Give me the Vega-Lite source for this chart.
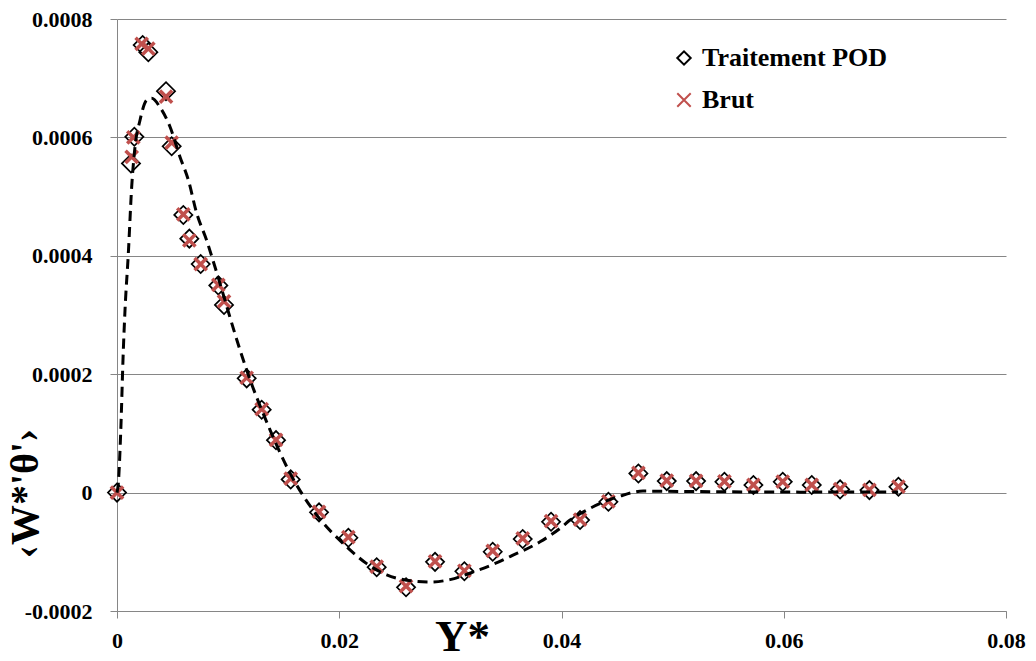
{
  "$schema": "https://vega.github.io/schema/vega-lite/v6.json",
  "width": 889,
  "height": 592,
  "autosize": {"type": "none"},
  "padding": {"left": 117, "top": 19, "right": 30, "bottom": 50},
  "background": "white",
  "config": {"view": {"stroke": null}, "font": "Liberation Serif", "axis": {"labelFont": "Liberation Serif", "titleFont": "Liberation Serif"}},
  "datasets": {
    "pod": [
      {"y": 0, "w": 0, "serie": "Traitement POD"},
      {"y": 0.00126, "w": 0.000556, "serie": "Traitement POD"},
      {"y": 0.00156, "w": 0.000601, "serie": "Traitement POD"},
      {"y": 0.00231, "w": 0.000756, "serie": "Traitement POD"},
      {"y": 0.00282, "w": 0.000744, "serie": "Traitement POD"},
      {"y": 0.00441, "w": 0.000678, "serie": "Traitement POD"},
      {"y": 0.00492, "w": 0.000585, "serie": "Traitement POD"},
      {"y": 0.00597, "w": 0.000469, "serie": "Traitement POD"},
      {"y": 0.00651, "w": 0.000429, "serie": "Traitement POD"},
      {"y": 0.00753, "w": 0.000386, "serie": "Traitement POD"},
      {"y": 0.00912, "w": 0.00035, "serie": "Traitement POD"},
      {"y": 0.00963, "w": 0.000317, "serie": "Traitement POD"},
      {"y": 0.01167, "w": 0.000193, "serie": "Traitement POD"},
      {"y": 0.01302, "w": 0.00014, "serie": "Traitement POD"},
      {"y": 0.01431, "w": 0.0000886, "serie": "Traitement POD"},
      {"y": 0.01563, "w": 0.0000223, "serie": "Traitement POD"},
      {"y": 0.01818, "w": -0.0000334, "serie": "Traitement POD"},
      {"y": 0.02082, "w": -0.0000763, "serie": "Traitement POD"},
      {"y": 0.02337, "w": -0.000126, "serie": "Traitement POD"},
      {"y": 0.02601, "w": -0.00016, "serie": "Traitement POD"},
      {"y": 0.02862, "w": -0.000117, "serie": "Traitement POD"},
      {"y": 0.03126, "w": -0.000133, "serie": "Traitement POD"},
      {"y": 0.03381, "w": -0.0000999, "serie": "Traitement POD"},
      {"y": 0.03651, "w": -0.0000785, "serie": "Traitement POD"},
      {"y": 0.03906, "w": -0.0000493, "serie": "Traitement POD"},
      {"y": 0.04167, "w": -0.0000464, "serie": "Traitement POD"},
      {"y": 0.04422, "w": -0.0000155, "serie": "Traitement POD"},
      {"y": 0.04692, "w": 0.0000324, "serie": "Traitement POD"},
      {"y": 0.04947, "w": 0.0000194, "serie": "Traitement POD"},
      {"y": 0.05211, "w": 0.0000194, "serie": "Traitement POD"},
      {"y": 0.05466, "w": 0.0000182, "serie": "Traitement POD"},
      {"y": 0.05727, "w": 0.0000127, "serie": "Traitement POD"},
      {"y": 0.05991, "w": 0.0000182, "serie": "Traitement POD"},
      {"y": 0.06252, "w": 0.0000127, "serie": "Traitement POD"},
      {"y": 0.06507, "w": 0.0000054, "serie": "Traitement POD"},
      {"y": 0.06771, "w": 0.0000042, "serie": "Traitement POD"},
      {"y": 0.07032, "w": 0.0000098, "serie": "Traitement POD"}
    ],
    "brut": [
      {"y": 0, "w": 0, "serie": "Brut"},
      {"y": 0.00132, "w": 0.000567, "serie": "Brut"},
      {"y": 0.00147, "w": 0.0006, "serie": "Brut"},
      {"y": 0.00222, "w": 0.000758, "serie": "Brut"},
      {"y": 0.00282, "w": 0.00075, "serie": "Brut"},
      {"y": 0.00441, "w": 0.000669, "serie": "Brut"},
      {"y": 0.00492, "w": 0.000591, "serie": "Brut"},
      {"y": 0.00597, "w": 0.00047, "serie": "Brut"},
      {"y": 0.00651, "w": 0.000426, "serie": "Brut"},
      {"y": 0.00753, "w": 0.000386, "serie": "Brut"},
      {"y": 0.00912, "w": 0.000351, "serie": "Brut"},
      {"y": 0.00963, "w": 0.000323, "serie": "Brut"},
      {"y": 0.01167, "w": 0.000194, "serie": "Brut"},
      {"y": 0.01302, "w": 0.000141, "serie": "Brut"},
      {"y": 0.01431, "w": 0.0000892, "serie": "Brut"},
      {"y": 0.01563, "w": 0.0000235, "serie": "Brut"},
      {"y": 0.01818, "w": -0.0000325, "serie": "Brut"},
      {"y": 0.02082, "w": -0.0000752, "serie": "Brut"},
      {"y": 0.02337, "w": -0.000125, "serie": "Brut"},
      {"y": 0.02601, "w": -0.000158, "serie": "Brut"},
      {"y": 0.02862, "w": -0.000116, "serie": "Brut"},
      {"y": 0.03126, "w": -0.000132, "serie": "Brut"},
      {"y": 0.03381, "w": -0.0000985, "serie": "Brut"},
      {"y": 0.03651, "w": -0.0000775, "serie": "Brut"},
      {"y": 0.03906, "w": -0.0000482, "serie": "Brut"},
      {"y": 0.04167, "w": -0.0000455, "serie": "Brut"},
      {"y": 0.04422, "w": -0.0000148, "serie": "Brut"},
      {"y": 0.04692, "w": 0.0000332, "serie": "Brut"},
      {"y": 0.04947, "w": 0.0000201, "serie": "Brut"},
      {"y": 0.05211, "w": 0.0000199, "serie": "Brut"},
      {"y": 0.05466, "w": 0.0000188, "serie": "Brut"},
      {"y": 0.05727, "w": 0.0000131, "serie": "Brut"},
      {"y": 0.05991, "w": 0.0000186, "serie": "Brut"},
      {"y": 0.06252, "w": 0.0000131, "serie": "Brut"},
      {"y": 0.06507, "w": 0.0000058, "serie": "Brut"},
      {"y": 0.06771, "w": 0.0000046, "serie": "Brut"},
      {"y": 0.07032, "w": 0.0000102, "serie": "Brut"}
    ],
    "curve": [
      {"y": 0, "w": 0},
      {"y": 0.00012, "w": 0.000016},
      {"y": 0.00033, "w": 0.0001},
      {"y": 0.00057, "w": 0.000241},
      {"y": 0.00072, "w": 0.000308},
      {"y": 0.00102, "w": 0.000404},
      {"y": 0.00132, "w": 0.000516},
      {"y": 0.00162, "w": 0.000584},
      {"y": 0.00207, "w": 0.000629},
      {"y": 0.00267, "w": 0.000663},
      {"y": 0.00312, "w": 0.000666},
      {"y": 0.00387, "w": 0.000651},
      {"y": 0.00477, "w": 0.000618},
      {"y": 0.00567, "w": 0.000567},
      {"y": 0.00642, "w": 0.000528},
      {"y": 0.00717, "w": 0.000472},
      {"y": 0.00807, "w": 0.000426},
      {"y": 0.00882, "w": 0.000381},
      {"y": 0.01107, "w": 0.000241},
      {"y": 0.01167, "w": 0.000207},
      {"y": 0.01377, "w": 0.000106},
      {"y": 0.01557, "w": 0.0000329},
      {"y": 0.01764, "w": -0.0000295},
      {"y": 0.02067, "w": -0.0000915},
      {"y": 0.02247, "w": -0.00012},
      {"y": 0.02427, "w": -0.000139},
      {"y": 0.02607, "w": -0.000148},
      {"y": 0.02817, "w": -0.000151},
      {"y": 0.02997, "w": -0.000147},
      {"y": 0.03207, "w": -0.000134},
      {"y": 0.03387, "w": -0.000121},
      {"y": 0.03537, "w": -0.000108},
      {"y": 0.03807, "w": -0.0000831},
      {"y": 0.03987, "w": -0.0000604},
      {"y": 0.04077, "w": -0.0000464},
      {"y": 0.04227, "w": -0.0000295},
      {"y": 0.04527, "w": -0.0000059},
      {"y": 0.04734, "w": 0.0000025},
      {"y": 0.05247, "w": 0.0000017},
      {"y": 0.06147, "w": 0.0000008},
      {"y": 0.07029, "w": 0.000001}
    ]
  },
  "layer": [
    {
      "mark": {"type": "rule", "color": "#404040", "strokeWidth": 1},
      "encoding": {"x": {"datum": 0.08, "type": "quantitative"}}
    },
    {
      "data": {"name": "pod"},
      "mark": {"type": "point", "filled": false, "size": 330, "strokeWidth": 1.7, "opacity": 1},
      "encoding": {
        "x": {
          "field": "y", "type": "quantitative",
          "scale": {"domain": [0, 0.08], "nice": false, "zero": false},
          "axis": {
            "values": [0, 0.02, 0.04, 0.06, 0.08],
            "grid": false,
            "domainColor": "#868686",
            "tickColor": "#868686",
            "tickSize": 7,
            "labelFont": "Liberation Serif",
            "labelFontWeight": "bold",
            "labelFontSize": 22,
            "labelColor": "black",
            "labelPadding": 12,
            "labelOverlap": false,
            "labelFlush": false,
            "labelExpr": "datum.value == 0 ? '0' : format(datum.value, '.2f')",
            "title": "Y*",
            "titleFont": "Liberation Serif",
            "titleFontSize": 45,
            "titleFontWeight": "bold",
            "titleColor": "black",
            "titleX": 345,
            "titleY": 39,
            "titleAlign": "center",
            "titleBaseline": "alphabetic"
          }
        },
        "y": {
          "field": "w", "type": "quantitative",
          "scale": {"domain": [-0.0002, 0.0008], "nice": false, "zero": false},
          "axis": {
            "values": [-0.0002, 0, 0.0002, 0.0004, 0.0006, 0.0008],
            "grid": true,
            "gridColor": "#868686",
            "gridWidth": 1,
            "domainColor": "#868686",
            "tickColor": "#868686",
            "tickSize": 7,
            "labelFont": "Liberation Serif",
            "labelFontWeight": "bold",
            "labelFontSize": 22,
            "labelColor": "black",
            "labelPadding": 18,
            "labelOverlap": false,
            "labelFlush": false,
            "labelExpr": "datum.value == 0 ? '0' : (datum.value < 0 ? '-' + format(-datum.value, '.4f') : format(datum.value, '.4f'))",
            "title": "‹W*'θ'›",
            "titleFont": "Liberation Serif",
            "titleFontSize": 40,
            "titleFontWeight": "bold",
            "titleColor": "black",
            "titleAngle": 270,
            "titleX": -92,
            "titleY": 474,
            "titleAlign": "center",
            "titleBaseline": "middle"
          }
        },
        "shape": {
          "field": "serie", "type": "nominal",
          "scale": {"domain": ["Traitement POD", "Brut"], "range": ["diamond", "M-1,-1L1,1M1,-1L-1,1"]},
          "legend": {
            "orient": "none",
            "legendX": 554,
            "legendY": 26,
            "title": null,
            "padding": 0,
            "symbolSize": 180,
            "symbolStrokeWidth": 2,
            "labelFont": "Liberation Serif",
            "labelFontSize": 26,
            "labelFontWeight": "bold",
            "labelColor": "black",
            "labelOffset": 5,
            "labelLimit": 400,
            "rowPadding": 16
          }
        },
        "stroke": {
          "field": "serie", "type": "nominal",
          "scale": {"domain": ["Traitement POD", "Brut"], "range": ["#000000", "#C0504D"]},
          "legend": {
            "orient": "none",
            "legendX": 554,
            "legendY": 26,
            "title": null,
            "padding": 0,
            "symbolSize": 180,
            "symbolStrokeWidth": 2,
            "labelFont": "Liberation Serif",
            "labelFontSize": 26,
            "labelFontWeight": "bold",
            "labelColor": "black",
            "labelOffset": 5,
            "labelLimit": 400,
            "rowPadding": 16
          }
        }
      }
    },
    {
      "data": {"name": "brut"},
      "mark": {"type": "point", "filled": false, "size": 150, "strokeWidth": 3.5, "opacity": 1},
      "encoding": {
        "x": {"field": "y", "type": "quantitative"},
        "y": {"field": "w", "type": "quantitative"},
        "shape": {"field": "serie", "type": "nominal"},
        "stroke": {"field": "serie", "type": "nominal"}
      }
    },
    {
      "data": {"name": "curve"},
      "mark": {"type": "line", "color": "black", "strokeWidth": 3, "strokeDash": [10, 6], "interpolate": "monotone"},
      "encoding": {
        "x": {"field": "y", "type": "quantitative"},
        "y": {"field": "w", "type": "quantitative"}
      }
    }
  ]
}
